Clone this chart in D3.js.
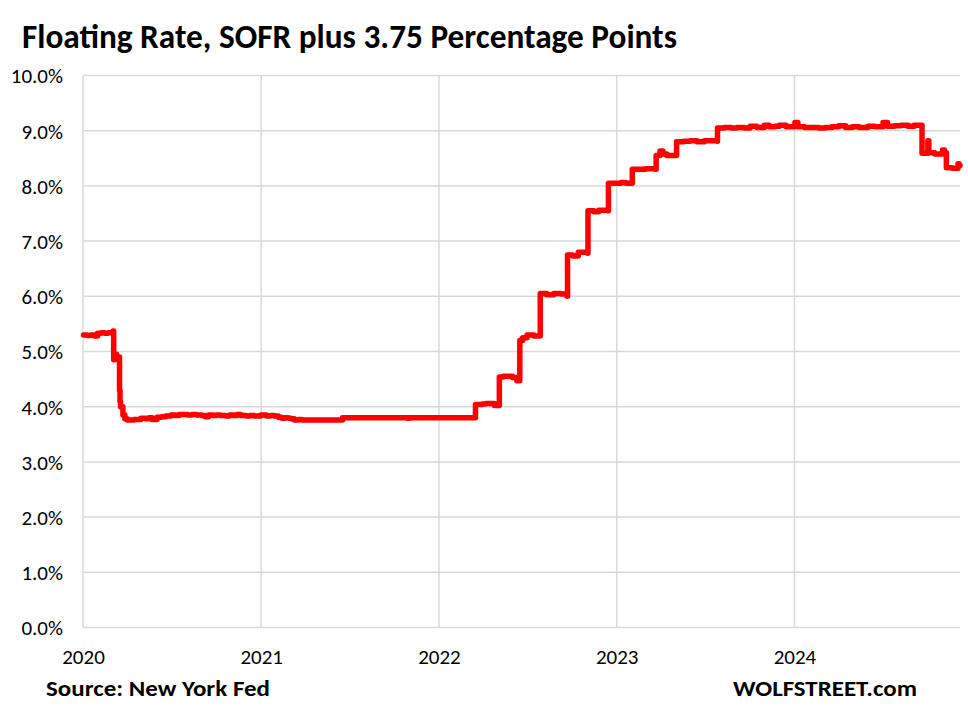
<!DOCTYPE html>
<html>
<head>
<meta charset="utf-8">
<script src="https://cdn.jsdelivr.net/npm/d3@7"></script>
<style>
  body { margin: 0; background: #fff; }
  text { font-family: Carlito, Lato, "Open Sans", sans-serif; fill: #000; }
</style>
</head>
<body>
<svg id="chart" width="968" height="716"></svg>
<script>
// SOFR + 3.75, step series
var dates = [
  "2020-01-02","2020-01-10","2020-01-17","2020-01-24","2020-01-31","2020-02-07","2020-02-14","2020-02-21",
  "2020-02-28","2020-03-03","2020-03-04","2020-03-06","2020-03-10","2020-03-13","2020-03-16","2020-03-17",
  "2020-03-18","2020-03-23","2020-03-27","2020-04-01","2020-04-15","2020-04-29","2020-05-08","2020-05-15",
  "2020-05-22","2020-06-01","2020-06-10","2020-06-19","2020-06-30","2020-07-08","2020-07-16","2020-07-24",
  "2020-08-03","2020-08-12","2020-08-21","2020-09-01","2020-09-08","2020-09-15","2020-09-24","2020-10-01",
  "2020-10-09","2020-10-20","2020-10-28","2020-11-04","2020-11-12","2020-11-20","2020-12-01","2020-12-09",
  "2020-12-17","2020-12-31",
  "2021-01-04","2021-01-12","2021-01-20","2021-01-28","2021-02-05","2021-02-12","2021-02-19","2021-02-26",
  "2021-03-03","2021-03-10","2021-03-19","2021-03-26","2021-06-17","2021-10-28","2021-11-02",
  "2022-03-17","2022-03-31","2022-04-08","2022-04-25","2022-05-05","2022-05-13","2022-05-25","2022-06-01",
  "2022-06-10","2022-06-16","2022-06-22","2022-07-01","2022-07-15","2022-07-28","2022-08-10","2022-08-25",
  "2022-09-09","2022-09-21","2022-09-22","2022-10-03","2022-10-14","2022-10-24","2022-11-02","2022-11-03",
  "2022-11-15","2022-11-25","2022-12-01","2022-12-14","2022-12-15","2022-12-30",
  "2023-01-10","2023-01-20","2023-02-01","2023-02-02","2023-02-15","2023-03-01","2023-03-22","2023-03-23",
  "2023-03-31","2023-04-06","2023-04-14","2023-04-25","2023-05-04","2023-05-18","2023-06-01","2023-06-15",
  "2023-06-30","2023-07-26","2023-07-27","2023-08-10","2023-08-24","2023-09-05","2023-09-20","2023-10-02",
  "2023-10-16","2023-10-31","2023-11-10","2023-11-22","2023-12-01","2023-12-15",
  "2024-01-02","2024-01-08","2024-01-22","2024-02-05","2024-02-20","2024-03-04","2024-03-18","2024-04-01",
  "2024-04-15","2024-04-29","2024-05-13","2024-05-31","2024-06-14","2024-07-01","2024-07-10","2024-07-24",
  "2024-08-07","2024-08-21","2024-09-03","2024-09-19","2024-10-01","2024-10-03","2024-10-15","2024-10-31",
  "2024-11-04","2024-11-08","2024-11-20","2024-12-02","2024-12-04","2024-12-06"
];
var values = [
  5.30,5.29,5.30,5.28,5.33,5.34,5.33,5.34,
  5.35,5.37,4.85,4.95,4.87,4.90,4.30,4.10,
  4.00,3.85,3.78,3.76,3.77,3.79,3.78,3.80,
  3.77,3.81,3.82,3.83,3.85,3.84,3.86,3.86,
  3.85,3.86,3.85,3.84,3.82,3.85,3.84,3.85,
  3.84,3.83,3.85,3.84,3.86,3.84,3.83,3.84,
  3.83,3.85,
  3.85,3.83,3.84,3.83,3.81,3.79,3.80,3.79,
  3.78,3.76,3.77,3.76,3.80,3.79,3.80,
  4.04,4.05,4.06,4.02,4.54,4.55,4.55,4.53,
  4.47,5.20,5.25,5.30,5.28,6.05,6.03,6.05,
  6.04,6.00,6.75,6.73,6.80,6.80,6.78,7.55,
  7.53,7.56,7.56,7.55,8.05,8.05,
  8.06,8.05,8.05,8.30,8.30,8.31,8.30,8.55,
  8.63,8.58,8.55,8.55,8.80,8.81,8.82,8.80,
  8.82,8.81,9.05,9.06,9.05,9.06,9.05,9.08,
  9.06,9.10,9.07,9.08,9.10,9.07,
  9.15,9.07,9.06,9.06,9.05,9.06,9.07,9.09,
  9.06,9.07,9.06,9.08,9.07,9.15,9.08,9.09,
  9.10,9.08,9.10,8.59,8.82,8.60,8.58,8.65,
  8.60,8.33,8.32,8.40,8.37,8.37
];
var yTicks = [0,1,2,3,4,5,6,7,8,9,10];
var yearTicks = ["2020","2021","2022","2023","2024"];
var title = "Floating Rate, SOFR plus 3.75 Percentage Points";
var sourceText = "Source: New York Fed";
var siteText = "WOLFSTREET.com";

(function(){
  var parse = d3.timeParse("%Y-%m-%d");
  var data = dates.map(function(d, i){ return {date: parse(d), value: values[i]}; });

  var svg = d3.select("#chart");
  var plotLeft = 83, plotRight = 960, plotTop = 75.5, plotBottom = 627.5;

  var x = d3.scaleTime()
    .domain([parse("2020-01-01"), parse("2024-12-06")])
    .range([plotLeft, plotRight]);
  var y = d3.scaleLinear().domain([0, 10]).range([plotBottom, plotTop]);

  // grid
  svg.append("g").selectAll("line").data(yTicks).enter().append("line")
    .attr("x1", plotLeft).attr("x2", plotRight)
    .attr("y1", function(d){ return y(d); }).attr("y2", function(d){ return y(d); })
    .attr("stroke", "#d9d9d9").attr("stroke-width", 1.5);

  var years = yearTicks.map(function(t){ return parse(t + "-01-01"); });
  svg.append("g").selectAll("line").data(years).enter().append("line")
    .attr("x1", function(d){ return x(d); }).attr("x2", function(d){ return x(d); })
    .attr("y1", plotTop).attr("y2", plotBottom)
    .attr("stroke", "#d9d9d9").attr("stroke-width", 1.5);

  // axis labels
  var yAxis = d3.axisLeft(y).tickValues(yTicks).tickSize(0).tickPadding(0)
    .tickFormat(function(d){ return d.toFixed(1) + "%"; });
  svg.append("g").attr("transform", "translate(63,0)").call(yAxis)
    .call(function(g){ g.select(".domain").remove(); })
    .selectAll("text").style("font-size", "21px").style("font-family", null).attr("dy", "0.35em");

  var xAxis = d3.axisBottom(x).tickValues(years).tickSize(0).tickPadding(0)
    .tickFormat(d3.timeFormat("%Y"));
  svg.append("g").attr("transform", "translate(0,649)").call(xAxis)
    .call(function(g){ g.select(".domain").remove(); })
    .selectAll("text").style("font-size", "21px").style("font-family", null);

  // line
  var line = d3.line()
    .x(function(d){ return x(d.date); })
    .y(function(d){ return y(d.value); })
    .curve(d3.curveStepAfter);

  svg.append("path").datum(data)
    .attr("d", line)
    .attr("fill", "none")
    .attr("stroke", "#ff0000")
    .attr("stroke-width", 5.5)
    .attr("stroke-linejoin", "round")
    .attr("stroke-linecap", "round");

  // title and footer
  var t = svg.append("text").attr("x", 22).attr("y", 48)
    .style("font-size", "26px").style("font-weight", "bold").text(title);
  var tl = t.node().getComputedTextLength();
  t.style("font-size", (26 * 655 / tl).toFixed(2) + "px");

  svg.append("text").attr("x", 46).attr("y", 696)
    .style("font-size", "22px").style("font-weight", "bold")
    .attr("textLength", 224).attr("lengthAdjust", "spacingAndGlyphs").text(sourceText);
  svg.append("text").attr("x", 733).attr("y", 696)
    .style("font-size", "22px").style("font-weight", "bold")
    .attr("textLength", 184).attr("lengthAdjust", "spacingAndGlyphs").text(siteText);
})();
</script>
</body>
</html>
